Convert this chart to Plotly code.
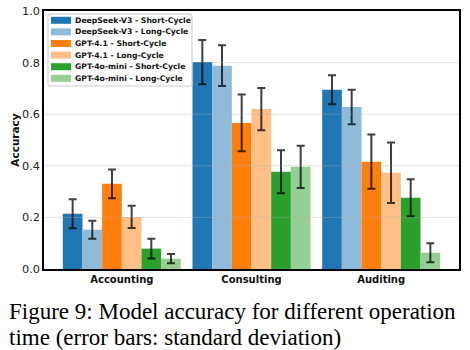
import plotly.graph_objects as go

categories = ["Accounting", "Consulting", "Auditing"]
series_names = [
    "DeepSeek-V3 - Short-Cycle",
    "DeepSeek-V3 - Long-Cycle",
    "GPT-4.1 - Short-Cycle",
    "GPT-4.1 - Long-Cycle",
    "GPT-4o-mini - Short-Cycle",
    "GPT-4o-mini - Long-Cycle",
]
series_colors = ["#1f77b4", "#8fbbd9", "#ff7f0e", "#ffbf86", "#2ca02c", "#95cf95"]

ds_short = [0.214, 0.802, 0.695]
ds_long = [0.152, 0.788, 0.628]
g41_short = [0.330, 0.566, 0.416]
g41_long = [0.202, 0.620, 0.373]
mini_short = [0.079, 0.377, 0.276]
mini_long = [0.040, 0.396, 0.063]

ds_short_sd = [0.056, 0.086, 0.056]
ds_long_sd = [0.035, 0.079, 0.067]
g41_short_sd = [0.056, 0.110, 0.105]
g41_long_sd = [0.043, 0.082, 0.117]
mini_short_sd = [0.038, 0.083, 0.072]
mini_long_sd = [0.018, 0.082, 0.037]

values = [ds_short, ds_long, g41_short, g41_long, mini_short, mini_long]
errors = [ds_short_sd, ds_long_sd, g41_short_sd, g41_long_sd, mini_short_sd, mini_long_sd]

y_ticks = [0.0, 0.2, 0.4, 0.6, 0.8, 1.0]
grid_vals = [0.2, 0.4, 0.6, 0.8]

caption_lines = [
    "Figure 9: Model accuracy for different operation",
    "time (error bars: standard deviation)",
]

W_FIG, H_FIG = 470, 350
L, R, T, B = 44, 11, 11, 81
PW = W_FIG - L - R
PH = H_FIG - T - B


def px_x(px):
    return (px - L) / PW


def px_y(py):
    return 1 - (py - T) / PH


def rounded_rect(x0, y0, x1, y1, r):
    X = lambda v: f"{px_x(v):.5f}"
    Y = lambda v: f"{px_y(v):.5f}"
    return (f"M {X(x0 + r)} {Y(y0)} L {X(x1 - r)} {Y(y0)} Q {X(x1)} {Y(y0)} {X(x1)} {Y(y0 + r)} "
            f"L {X(x1)} {Y(y1 - r)} Q {X(x1)} {Y(y1)} {X(x1 - r)} {Y(y1)} "
            f"L {X(x0 + r)} {Y(y1)} Q {X(x0)} {Y(y1)} {X(x0)} {Y(y1 - r)} "
            f"L {X(x0)} {Y(y0 + r)} Q {X(x0)} {Y(y0)} {X(x0 + r)} {Y(y0)} Z")


fig = go.Figure()
for name, col, vals, errs in zip(series_names, series_colors, values, errors):
    fig.add_trace(go.Bar(
        x=categories, y=vals, name=name, marker_color=col, marker_line_width=0,
        showlegend=False,
        error_y=dict(type="data", array=errs, visible=True, color="rgba(0,0,0,0.75)",
                     thickness=2, width=4),
    ))

shapes = []
for g in grid_vals:
    shapes.append(dict(type="line", xref="paper", yref="y", x0=0, x1=1, y0=g, y1=g,
                       line=dict(color="rgba(176,176,176,0.35)", width=1), layer="above"))

# legend box
shapes.append(dict(type="path", xref="paper", yref="paper",
                   path=rounded_rect(48, 14, 192, 86, 2),
                   fillcolor="rgba(255,255,255,0.8)", line=dict(color="#cccccc", width=1),
                   layer="above"))
annotations = []
for i, (name, col) in enumerate(zip(series_names, series_colors)):
    cy = 20.3 + i * 11.6
    shapes.append(dict(type="rect", xref="paper", yref="paper",
                       x0=px_x(51), x1=px_x(71), y0=px_y(cy + 3.5), y1=px_y(cy - 3.5),
                       fillcolor=col, line=dict(width=0), layer="above"))
    annotations.append(dict(xref="paper", yref="paper", x=px_x(73), y=px_y(cy),
                            xanchor="left", yanchor="middle", showarrow=False,
                            text=f"<b>{name}</b>",
                            font=dict(family="DejaVu Sans", size=7.7, color="#111")))

for j, line in enumerate(caption_lines):
    annotations.append(dict(xref="paper", yref="paper", x=px_x(7), y=px_y(311 + j * 26),
                            xanchor="left", yanchor="middle", showarrow=False, text=line,
                            font=dict(family="Liberation Serif", size=23, color="#000")))

fig.update_layout(
    width=W_FIG, height=H_FIG,
    margin=dict(l=L, r=R, t=T, b=B, autoexpand=False),
    paper_bgcolor="white", plot_bgcolor="white",
    barmode="group", bargap=0.09, bargroupgap=0,
    shapes=shapes, annotations=annotations,
    xaxis=dict(range=[-0.6, 2.6], showgrid=False, showline=True, linecolor="black",
               linewidth=1.5, mirror=True, ticks="",
               tickfont=dict(family="DejaVu Sans", size=10, color="#111", weight="bold")),
    yaxis=dict(range=[0, 1.0], tickvals=y_ticks, ticktext=[f"{v:.1f}" for v in y_ticks],
               showgrid=False, showline=True, linecolor="black", linewidth=1.5, mirror=True,
               ticks="", zeroline=False,
               tickfont=dict(family="DejaVu Sans", size=11.3, color="#222"),
               title=dict(text="<b>Accuracy</b>", standoff=0,
                          font=dict(family="DejaVu Sans", size=10.5, color="#111"))),
)

fig.write_html("out.html")
